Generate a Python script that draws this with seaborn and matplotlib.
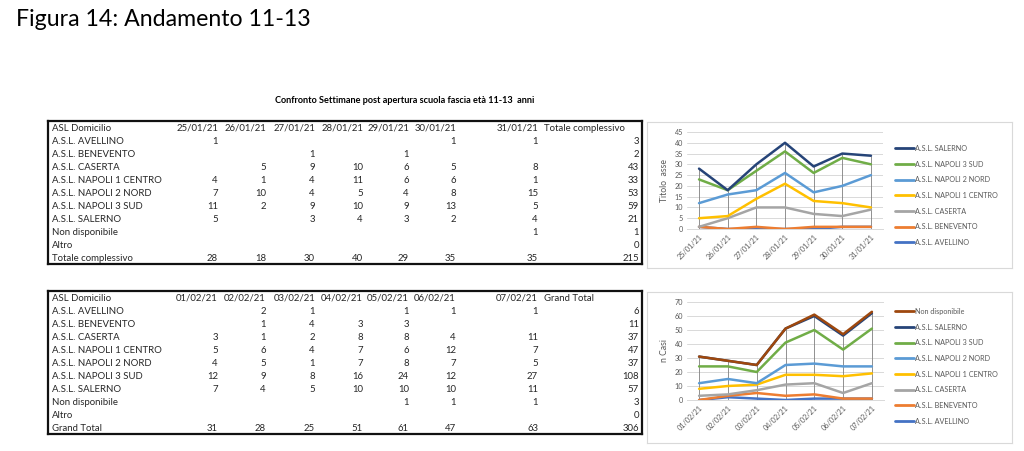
import numpy as np
import pandas as pd
import matplotlib
matplotlib.use("Agg")
import matplotlib.pyplot as plt
import seaborn as sns
from matplotlib.lines import Line2D
from matplotlib.patches import Rectangle

# ---------------- data ----------------
row_labels = ["A.S.L. AVELLINO", "A.S.L. BENEVENTO", "A.S.L. CASERTA",
              "A.S.L. NAPOLI 1 CENTRO", "A.S.L. NAPOLI 2 NORD", "A.S.L. NAPOLI 3 SUD",
              "A.S.L. SALERNO", "Non disponibile", "Altro"]

dates_w1 = ["25/01/21", "26/01/21", "27/01/21", "28/01/21", "29/01/21", "30/01/21", "31/01/21"]
w1_avellino = [1, 0, 0, 0, 0, 1, 1]
w1_benevento = [0, 0, 1, 0, 1, 0, 0]
w1_caserta = [0, 5, 9, 10, 6, 5, 8]
w1_napoli1 = [4, 1, 4, 11, 6, 6, 1]
w1_napoli2 = [7, 10, 4, 5, 4, 8, 15]
w1_napoli3 = [11, 2, 9, 10, 9, 13, 5]
w1_salerno = [5, 0, 3, 4, 3, 2, 4]
w1_nondisp = [0, 0, 0, 0, 0, 0, 1]
w1_altro = [0, 0, 0, 0, 0, 0, 0]

dates_w2 = ["01/02/21", "02/02/21", "03/02/21", "04/02/21", "05/02/21", "06/02/21", "07/02/21"]
w2_avellino = [0, 2, 1, 0, 1, 1, 1]
w2_benevento = [0, 1, 4, 3, 3, 0, 0]
w2_caserta = [3, 1, 2, 8, 8, 4, 11]
w2_napoli1 = [5, 6, 4, 7, 6, 12, 7]
w2_napoli2 = [4, 5, 1, 7, 8, 7, 5]
w2_napoli3 = [12, 9, 8, 16, 24, 12, 27]
w2_salerno = [7, 4, 5, 10, 10, 10, 11]
w2_nondisp = [0, 0, 0, 0, 1, 1, 1]
w2_altro = [0, 0, 0, 0, 0, 0, 0]

series_colors = {
    "A.S.L. AVELLINO": "#4472C4",
    "A.S.L. BENEVENTO": "#ED7D31",
    "A.S.L. CASERTA": "#A5A5A5",
    "A.S.L. NAPOLI 1 CENTRO": "#FFC000",
    "A.S.L. NAPOLI 2 NORD": "#5B9BD5",
    "A.S.L. NAPOLI 3 SUD": "#70AD47",
    "A.S.L. SALERNO": "#264478",
    "Non disponibile": "#9E480E",
}

# ---------------- style ----------------
sns.set_theme(style="white")
plt.rcParams["font.family"] = ["Lato", "DejaVu Sans"]

W, H = 1024, 451
fig = plt.figure(figsize=(W / 100, H / 100), dpi=100)
fig.patch.set_facecolor("white")


def fx(px):
    return px / W


def fy(py):
    return 1 - py / H


def box(l, t, r, b):
    return [fx(l), fy(b), (r - l) / W, (b - t) / H]


fig.text(fx(16), fy(20), "Figura 14: Andamento 11-13", fontsize=16.7,
         ha="left", va="center", color="black")
fig.text(fx(405), fy(101), "Confronto Settimane post apertura scuola fascia età 11-13  anni",
         fontsize=6.6, fontweight="bold", ha="center", va="center", color="black")


# ---------------- tables ----------------
def draw_table(rect, dates, rows, total_label, col_right, y0):
    l, t, r, b = rect
    ax = fig.add_axes(box(l, t, r, b))
    ax.set_xlim(l, r)
    ax.set_ylim(b, t)
    ax.set_xticks([])
    ax.set_yticks([])
    for s in ax.spines.values():
        s.set_visible(True)
        s.set_color("#111111")
        s.set_linewidth(1.6)
    ax.set_facecolor("white")
    fs = 6.9
    step = 13.0
    ax.text(l + 4, y0, "ASL Domicilio", fontsize=fs, ha="left", va="center")
    for d, xr in zip(dates, col_right[:-1]):
        ax.text(xr, y0, d, fontsize=fs, ha="right", va="center")
    ax.text(544, y0, total_label, fontsize=fs, ha="left", va="center")
    totals = np.zeros(len(dates), dtype=int)
    for i, (lab, vals) in enumerate(zip(row_labels, rows)):
        y = y0 + step * (i + 1)
        ax.text(l + 4, y, lab, fontsize=fs, ha="left", va="center")
        for v, xr in zip(vals, col_right[:-1]):
            if v:
                ax.text(xr, y, str(v), fontsize=fs, ha="right", va="center")
        ax.text(col_right[-1], y, str(int(np.sum(vals))), fontsize=fs, ha="right", va="center")
        totals += np.array(vals)
    y = y0 + step * (len(rows) + 1)
    ax.text(l + 4, y, total_label, fontsize=fs, ha="left", va="center")
    for v, xr in zip(totals, col_right[:-1]):
        ax.text(xr, y, str(v), fontsize=fs, ha="right", va="center")
    ax.text(col_right[-1], y, str(int(totals.sum())), fontsize=fs, ha="right", va="center")


col_right = [218, 266, 315, 363, 409, 456, 538, 639]
rows_w1 = [w1_avellino, w1_benevento, w1_caserta, w1_napoli1, w1_napoli2,
           w1_napoli3, w1_salerno, w1_nondisp, w1_altro]
rows_w2 = [w2_avellino, w2_benevento, w2_caserta, w2_napoli1, w2_napoli2,
           w2_napoli3, w2_salerno, w2_nondisp, w2_altro]
draw_table((48, 121, 642, 264), dates_w1, rows_w1, "Totale complessivo", col_right, 128.3)
draw_table((48, 291, 642, 434), dates_w2, rows_w2, "Grand Total", col_right, 298.3)


# ---------------- charts ----------------
def draw_chart(frame_rect, plot_rect, dates, series, ymax, ystep, ylabel, legend_top):
    fl, ft, fr, fb = frame_rect
    frame = fig.add_axes(box(fl, ft, fr, fb), zorder=-5)
    frame.set_xticks([])
    frame.set_yticks([])
    frame.set_facecolor("white")
    for s in frame.spines.values():
        s.set_visible(True)
        s.set_color("#D9D9D9")
        s.set_linewidth(0.8)

    ax = fig.add_axes(box(*plot_rect), zorder=2)
    ax.set_facecolor("none")
    names = list(series.keys())
    mat = np.array([series[n] for n in names])
    cum = np.cumsum(mat, axis=0)
    xpos = np.arange(len(dates))
    # drop lines
    ax.vlines(xpos, 0, cum[-1], color="#7F7F7F", linewidth=0.6, zorder=1)
    for n, c in zip(names, cum):
        sns.lineplot(x=xpos, y=c, ax=ax, color=series_colors[n],
                     linewidth=1.8, zorder=3, legend=False)
    ax.set_xlim(-0.42, len(dates) - 1 + 0.42)
    ax.set_ylim(0, ymax)
    ax.set_yticks(np.arange(0, ymax + 1, ystep))
    ax.set_xticks(xpos)
    ax.set_xticklabels(dates, rotation=45, ha="right", rotation_mode="anchor")
    ax.tick_params(axis="both", labelsize=5.2, colors="#595959", length=0, pad=3)
    ax.yaxis.grid(True, color="#D9D9D9", linewidth=0.7)
    ax.xaxis.grid(False)
    for s in ["top", "right", "left"]:
        ax.spines[s].set_visible(False)
    ax.spines["bottom"].set_color("#D9D9D9")
    ax.spines["bottom"].set_linewidth(0.7)
    ax.set_ylabel(ylabel, fontsize=6.2, color="#595959", labelpad=4)
    handles = [Line2D([0], [0], color=series_colors[n], linewidth=2) for n in names[::-1]]
    leg = ax.legend(handles, names[::-1], loc="upper left",
                    bbox_to_anchor=(fx(895), fy(legend_top)), bbox_transform=fig.transFigure,
                    frameon=False, fontsize=5.2, handlelength=2.6, handletextpad=0.2,
                    labelspacing=1.2, borderpad=0, borderaxespad=0)
    for t in leg.get_texts():
        t.set_color("#595959")


series_w1 = {
    "A.S.L. AVELLINO": w1_avellino,
    "A.S.L. BENEVENTO": w1_benevento,
    "A.S.L. CASERTA": w1_caserta,
    "A.S.L. NAPOLI 1 CENTRO": w1_napoli1,
    "A.S.L. NAPOLI 2 NORD": w1_napoli2,
    "A.S.L. NAPOLI 3 SUD": w1_napoli3,
    "A.S.L. SALERNO": w1_salerno,
}
series_w2 = {
    "A.S.L. AVELLINO": w2_avellino,
    "A.S.L. BENEVENTO": w2_benevento,
    "A.S.L. CASERTA": w2_caserta,
    "A.S.L. NAPOLI 1 CENTRO": w2_napoli1,
    "A.S.L. NAPOLI 2 NORD": w2_napoli2,
    "A.S.L. NAPOLI 3 SUD": w2_napoli3,
    "A.S.L. SALERNO": w2_salerno,
    "Non disponibile": w2_nondisp,
}

draw_chart((647, 122, 1012, 268), (687, 132, 883, 229), dates_w1, series_w1, 45, 5,
           "Titolo  asse", 145)
draw_chart((647, 292, 1012, 443), (687, 302, 884, 400), dates_w2, series_w2, 70, 10,
           "n Casi", 308)

fig.savefig("out.png", dpi=100, facecolor="white")
